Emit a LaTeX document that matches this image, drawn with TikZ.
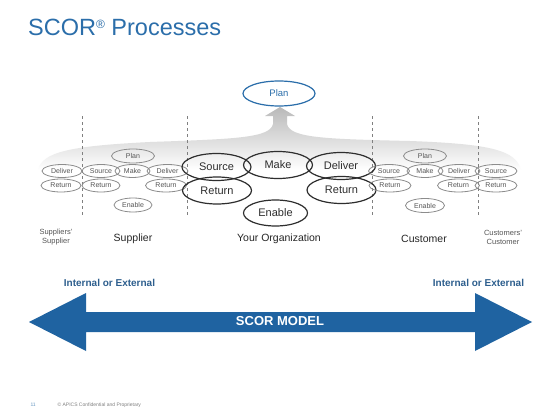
\documentclass[tikz,border=0pt]{standalone}
\usepackage{fontspec}
\setmainfont{Liberation Sans}
\usetikzlibrary{shapes.geometric}
\definecolor{titleblue}{HTML}{2B6EAA}
\definecolor{arrowblue}{HTML}{1F63A1}
\definecolor{labelblue}{HTML}{2E5F8E}
\definecolor{smallgray}{HTML}{8C8C8C}
\definecolor{smalltext}{HTML}{555555}
\definecolor{bigline}{HTML}{2E2E2E}
\begin{document}
\begin{tikzpicture}[x=1pt,y=-1pt,
  smallell/.style={ellipse, draw=smallgray, line width=0.8pt, inner sep=0pt,
    minimum width=40pt, minimum height=13pt, font=\fontsize{7}{8}\selectfont, text=smalltext},
  bigell/.style={ellipse, draw=bigline, line width=1.2pt, inner sep=0pt,
    minimum width=69pt, minimum height=27pt, font=\fontsize{11}{12}\selectfont, text=bigline},
  planell/.style={ellipse, draw=titleblue, line width=1.2pt, inner sep=0pt,
    minimum width=72pt, minimum height=25pt, font=\fontsize{9.5}{11}\selectfont, text=titleblue},
  divider/.style={draw=gray, dashed, line width=0.6pt},
  regionlabel/.style={font=\fontsize{10.5}{12}\selectfont, text=black!85},
  smalllabel/.style={font=\fontsize{7.5}{9}\selectfont, text=smalltext, align=center},
  extlabel/.style={font=\bfseries\fontsize{10}{12}\selectfont, text=labelblue},
  footer/.style={font=\fontsize{5}{6}\selectfont, anchor=base west}
]
\useasboundingbox (0,0) rectangle (560,420);
\fill[white] (0,0) rectangle (560,420);

% title
\node[anchor=base west, inner sep=0pt, font=\fontsize{23.5}{26}\selectfont, text=titleblue] (title) at (28,36)
  {SCOR\raisebox{7pt}{\fontsize{12}{12}\selectfont ®} Processes};

% gray spreading arrow
\path[top color=gray!55, middle color=gray!42, bottom color=white]
  (38,170) .. controls (42,152) and (70,146) .. (150,142)
  .. controls (235,139) and (270,138) .. (273,124) -- (273,116) -- (265,116) -- (280,107)
  -- (295,116) -- (287,116) -- (287,124)
  .. controls (290,138) and (325,139) .. (410,141)
  .. controls (490,144) and (516,150) .. (521,170) -- cycle;

% dividers
\coordinate (d1t) at (82,116); \coordinate (d1b) at (82,215);
\coordinate (d2t) at (187,116); \coordinate (d2b) at (187,215);
\coordinate (d3t) at (372,116); \coordinate (d3b) at (372,215);
\coordinate (d4t) at (478,116); \coordinate (d4b) at (478,215);
\draw[divider] (d1t) -- (d1b);
\draw[divider] (d2t) -- (d2b);
\draw[divider] (d3t) -- (d3b);
\draw[divider] (d4t) -- (d4b);

% plan
\node[planell] (plan) at (279,93.5) {Plan};

% supplier side small ellipses
\node[smallell] (ssd) at (62,171) {Deliver};
\node[smallell] (ssr) at (61,185.5) {Return};
\node[smallell, minimum width=38pt] (sso) at (101,171) {Source};
\node[smallell, minimum width=38pt] (sre) at (101,185.5) {Return};
\node[smallell, minimum width=43pt, minimum height=14pt] (spl) at (133,156) {Plan};
\node[smallell, minimum width=35pt] (sma) at (132.5,171) {Make};
\node[smallell, minimum width=41pt] (sde) at (167.5,171) {Deliver};
\node[smallell, minimum width=41pt] (srd) at (166,185.5) {Return};
\node[smallell, minimum width=38pt, minimum height=14pt] (sen) at (133,205) {Enable};

% organization big ellipses
\node[bigell] (oso) at (216.5,167) {Source};
\node[bigell] (ore) at (217,190.5) {Return};
\node[bigell] (oma) at (278,165) {Make};
\node[bigell] (ode) at (341,166) {Deliver};
\node[bigell] (ord) at (341.5,190) {Return};
\node[bigell, minimum width=64pt, minimum height=26pt] (oen) at (275.5,213) {Enable};

% customer side small ellipses
\node[smallell, minimum width=43pt, minimum height=14pt] (cpl) at (425,156) {Plan};
\node[smallell, minimum width=41pt] (cso) at (389,171) {Source};
\node[smallell, minimum width=42pt] (cre) at (390,185.5) {Return};
\node[smallell, minimum width=36pt] (cma) at (425,171) {Make};
\node[smallell, minimum width=42pt] (cde) at (459,171) {Deliver};
\node[smallell, minimum width=42pt] (crd) at (458.5,185.5) {Return};
\node[smallell, minimum width=42pt] (ccs) at (496,171) {Source};
\node[smallell, minimum width=42pt] (ccr) at (496,185.5) {Return};
\node[smallell, minimum width=39pt, minimum height=14pt] (cen) at (425,205.5) {Enable};

% region labels
\node[smalllabel] (lss) at (56,237) {Suppliers'\\Supplier};
\node[regionlabel] (lsu) at (133,238.5) {Supplier};
\node[regionlabel] (lyo) at (279,238.5) {Your Organization};
\node[regionlabel] (lcu) at (424,238.5) {Customer};
\node[smalllabel] (lcc) at (503,237) {Customers'\\Customer};

% blue double arrow
\fill[arrowblue] (29,322) -- (86,293) -- (86,312) -- (475,312) -- (475,293) -- (532,322)
  -- (475,351) -- (475,332) -- (86,332) -- (86,351) -- cycle;
\node[font=\bfseries\fontsize{13}{15}\selectfont, text=white] (model) at (280,321.5) {SCOR MODEL};
\node[extlabel] (extl) at (109.5,283) {Internal or External};
\node[extlabel] (extr) at (478.5,283) {Internal or External};

% footer
\node[footer, text=titleblue!70] (pgno) at (27,406) {11};
\node[footer, text=gray] (conf) at (54,406) {\textcopyright{} APICS Confidential and Proprietary};
\end{tikzpicture}
\end{document}
